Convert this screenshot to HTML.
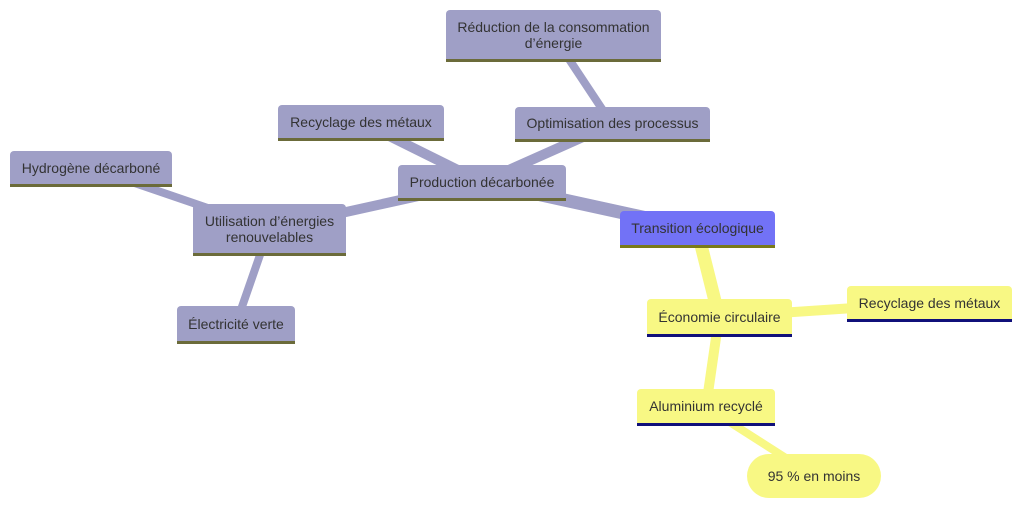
<!DOCTYPE html>
<html><head><meta charset="utf-8"><style>
body{margin:0;width:1024px;height:511px;background:#fff;position:relative;overflow:hidden;font-family:"Liberation Sans",sans-serif;}
.n{position:absolute;box-sizing:border-box;display:flex;align-items:center;justify-content:center;text-align:center;font-size:14px;color:#333;line-height:16px;border-radius:4px 4px 0 0;}
.p{background:#9f9fc6;border-bottom:3px solid #6b6b3a;}
.y{background:#f8f884;border-bottom:3px solid #10107a;}
.r{background:#7272f6;border-bottom:3px solid #7a7a1a;}
svg{position:absolute;left:0;top:0}
</style></head><body>
<svg width="1024" height="511">
<g stroke="#9f9fc6" stroke-linecap="round" fill="none">
<line x1="482" y1="182" x2="697" y2="229" stroke-width="13"/>
<line x1="482" y1="182" x2="361" y2="122" stroke-width="10"/>
<line x1="482" y1="182" x2="612" y2="124" stroke-width="10"/>
<line x1="482" y1="182" x2="269" y2="229" stroke-width="10"/>
<line x1="612" y1="124" x2="553" y2="35" stroke-width="8"/>
<line x1="269" y1="229" x2="91" y2="168" stroke-width="8"/>
<line x1="269" y1="229" x2="236" y2="324" stroke-width="8"/>
</g>
<g stroke="#f8f884" stroke-linecap="round" fill="none">
<line x1="697" y1="229" x2="719" y2="317" stroke-width="13"/>
<line x1="719" y1="317" x2="929" y2="303" stroke-width="10"/>
<line x1="719" y1="317" x2="706" y2="407" stroke-width="10"/>
<line x1="706" y1="407" x2="814" y2="476" stroke-width="8"/>
</g>
</svg>
<div class="n p" style="left:446px;top:10px;width:215px;height:52px">Réduction de la consommation<br>d’énergie</div>
<div class="n p" style="left:515px;top:107px;width:195px;height:35px">Optimisation des processus</div>
<div class="n p" style="left:278px;top:105px;width:166px;height:36px">Recyclage des métaux</div>
<div class="n p" style="left:398px;top:165px;width:168px;height:36px">Production décarbonée</div>
<div class="n p" style="left:10px;top:151px;width:162px;height:36px">Hydrogène décarboné</div>
<div class="n p" style="left:193px;top:204px;width:153px;height:52px">Utilisation d’énergies<br>renouvelables</div>
<div class="n p" style="left:177px;top:306px;width:118px;height:38px">Électricité verte</div>
<div class="n r" style="left:620px;top:211px;width:155px;height:37px">Transition écologique</div>
<div class="n y" style="left:647px;top:299px;width:145px;height:38px">Économie circulaire</div>
<div class="n y" style="left:847px;top:286px;width:165px;height:36px">Recyclage des métaux</div>
<div class="n y" style="left:637px;top:389px;width:138px;height:37px">Aluminium recyclé</div>
<div class="n" style="left:747px;top:454px;width:134px;height:44px;background:#f8f884;border-radius:22px">95 % en moins</div>
</body></html>
